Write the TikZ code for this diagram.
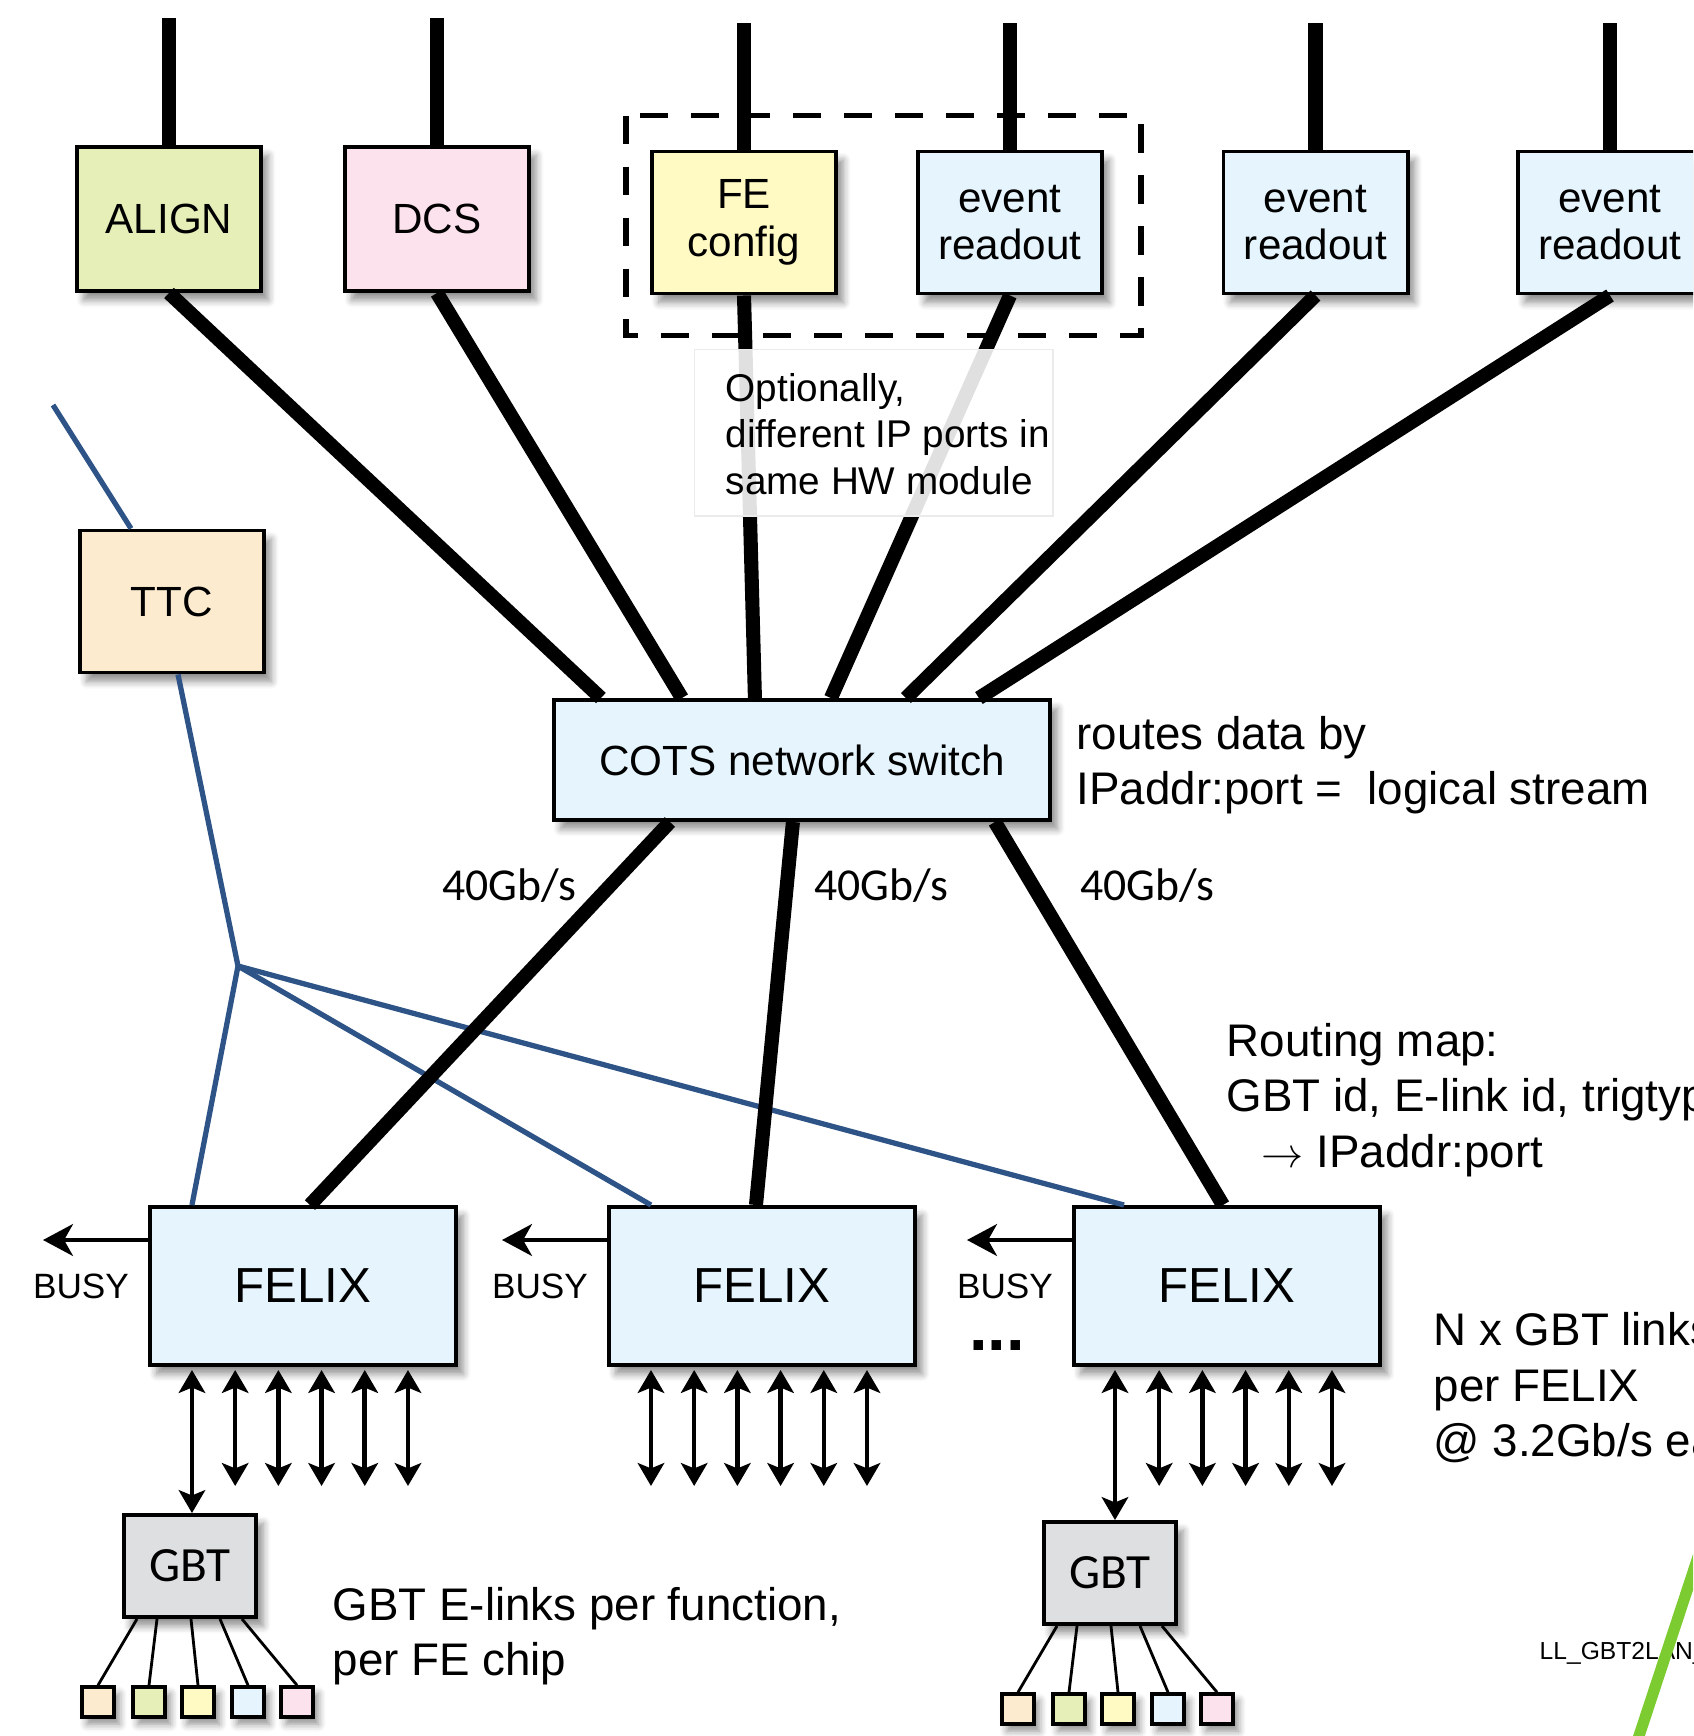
\documentclass[tikz,border=0pt]{standalone}
\usepackage{fontspec}
\setmainfont{Liberation Sans}
\newfontfamily\calib{Carlito}
\usetikzlibrary{calc,positioning,arrows.meta,shadows.blur}

\definecolor{alignfill}{HTML}{E6EFB8}
\definecolor{dcsfill}{HTML}{FCE2EC}
\definecolor{fefill}{HTML}{FFF9C4}
\definecolor{readfill}{HTML}{E6F5FD}
\definecolor{ttcfill}{HTML}{FDEBD0}
\definecolor{gbtfill}{HTML}{DEDFE1}
\definecolor{ttcblue}{HTML}{2E5487}
\definecolor{lime}{HTML}{7CCB30}

\begin{document}
\begin{tikzpicture}[x=0.01cm,y=-0.01cm,
  box/.style={draw,line width=1.1pt,inner sep=0pt,align=center,
    blur shadow={shadow xshift=2pt,shadow yshift=-2.5pt,shadow blur steps=6,shadow opacity=45},
    font=\fontsize{12}{13.6}\selectfont},
  topbox/.style={box,minimum width=1.84cm,minimum height=1.42cm},
  felix/.style={box,fill=readfill,minimum width=3.06cm,minimum height=1.58cm,font=\fontsize{14}{16}\selectfont},
  gbt/.style={box,fill=gbtfill,minimum width=1.32cm,minimum height=1.02cm,font=\calib\fontsize{14}{16}\selectfont},
  chip/.style={draw,line width=1pt,minimum width=0.32cm,minimum height=0.3cm,inner sep=0pt,
    blur shadow={shadow xshift=1.5pt,shadow yshift=-2pt,shadow blur steps=5,shadow opacity=45}},
  fat/.style={line width=4pt},
  ttcline/.style={ttcblue,line width=1.5pt},
  link/.style={line width=1.3pt,{Stealth[length=6.5pt,width=7.5pt,inset=1.5pt]}-{Stealth[length=6.5pt,width=7.5pt,inset=1.5pt]}},
  busy/.style={line width=1.4pt,-{Stealth[length=8.5pt,width=9pt,inset=2.5pt]}},
  elink/.style={line width=0.8pt},
  rate/.style={font=\calib\fontsize{13}{15}\selectfont,inner sep=0pt},
  note/.style={font=\fontsize{13}{15.8}\selectfont,align=left,inner sep=0pt}
  ]
  \useasboundingbox (0,0) rectangle (1693,1736);
  \clip (0,0) rectangle (1693,1736);

  % upper row
  \node[topbox,fill=alignfill,minimum height=1.44cm] (align) at (169,219) {ALIGN};
  \node[topbox,fill=dcsfill,minimum height=1.44cm] (dcs) at (437,219) {DCS};
  \node[topbox,fill=fefill] (fe) at (744,222.5) {FE\\config};
  \node[topbox,fill=readfill] (er1) at (1010,222.5) {event\\readout};
  \node[topbox,fill=readfill] (er2) at (1315.5,222.5) {event\\readout};
  \node[topbox,fill=readfill] (er3) at (1610,222.5) {event\\readout};
  \node[topbox,fill=ttcfill] (ttc) at (172,601.5) {TTC};

  % switch and FELIX cards
  \node[box,fill=readfill,minimum width=4.96cm,minimum height=1.2cm] (cots) at (802,760) {COTS network switch};
  \node[felix] (f1) at (303,1286) {FELIX};
  \node[felix] (f2) at (762,1286) {FELIX};
  \node[felix] (f3) at (1227,1286) {FELIX};
  \node[gbt] (gbta) at (190,1566) {GBT};
  \node[gbt] (gbtb) at (1110,1573) {GBT};

  % TTC distribution
  \coordinate (ttcup) at (53,405);
  \coordinate (hub) at (238,966);
  \draw[ttcline] ($(ttc.north west)+(53,0)$) -- (ttcup);
  \draw[ttcline] ($(ttc.south west)+(100,0)$) -- (hub);
  \foreach \f/\fx in {f1/44,f2/44,f3/52}
    \draw[ttcline] (hub) -- ($(\f.north west)+(\fx,0)$);

  % network links
  \foreach \n in {align,dcs,fe,er1,er2,er3}
    \draw[fat] (\n.north) -- ++(0,-127);
  \foreach \n/\dx in {align/49,dcs/130,fe/203,er1/279,er2/354,er3/427}
    \draw[fat] (\n.south) -- ($(cots.north west)+(\dx,0)$);
  \foreach \dx/\f/\fx in {118/f1/162,241/f2/149,443/f3/151}
    \draw[fat] ($(cots.south west)+(\dx,0)$) -- ($(\f.north west)+(\fx,0)$);

  \draw[line width=1.5pt,dash pattern=on 8pt off 6.5pt]
    ($(fe.north west)+(-24,-34)$) rectangle ($(er1.south east)+(37,40)$);
  \node[draw=black!8,fill=white,fill opacity=0.88,minimum width=3.58cm,minimum height=1.66cm,
    anchor=north west] (optbox) at (694,349) {};
  \node[note,font=\fontsize{11}{13.2}\selectfont,anchor=west] (opt) at (725,434)
    {Optionally,\\different IP ports in\\same HW module};

  \node[note,anchor=west] (routes) at (1076,765) {routes data by\\IPaddr:port =\ \ logical stream};
  \node[rate] (r1) at (509,886) {40Gb/s};
  \node[rate] (r2) at (881,886) {40Gb/s};
  \node[rate] (r3) at (1147,886) {40Gb/s};
  \node[note,anchor=west] (map) at (1226,1100)
    {Routing map:\\GBT id, E-link id, trigtype\\\hspace*{10pt}$\rightarrow$ IPaddr:port};

  % BUSY outputs and links
  \foreach \f in {f1,f2,f3} {
    \draw[busy] ($(\f.west)+(0,-46)$) -- ++(-105,0);
    \node[inner sep=0pt,font=\fontsize{10}{11}\selectfont] (busy\f) at ($(\f.west)+(-67,0)$) {BUSY};
    \foreach \k in {1,...,5}
      \draw[link] ($(\f.south west)+(44+43.2*\k,3)$) -- ++(0,116);
  }
  \node[font=\bfseries\fontsize{19}{19}\selectfont,inner sep=0pt] (dots) at (997,1346) {...};
  \draw[link] ($(f2.south west)+(44,3)$) -- ++(0,116);
  \path ($(f1.south west)+(44,3)$) coordinate (d1) ($(f3.south west)+(43,3)$) coordinate (d3);
  \draw[link] (d1) -- (d1 |- gbta.north);
  \draw[link] (d3) -- (d3 |- gbtb.north);

  \node[note,anchor=west] (nx) at (1433,1388)
    {N x GBT links\\per FELIX\\@ 3.2Gb/s each};

  % E-links to FE chips
  \foreach \g in {gbta,gbtb}
    \foreach \c/\dx/\sx [count=\i] in {ttcfill/-53/-92,alignfill/-33/-41,fefill/1/8,readfill/30/58,dcsfill/52/107} {
      \node[chip,fill=\c] (\g\i) at ($(\g)+(\sx,136)$) {};
      \draw[elink] ($(\g.south)+(\dx,0)$) -- (\g\i.north);
    }
  \node[note,anchor=west] (elinks) at (332,1636) {GBT E-links per function,\\per FE chip};

  \node[inner sep=0pt,anchor=west,font=\fontsize{7}{8}\selectfont] (tag) at (1539,1653) {LL\_GBT2LAN\_};
  \coordinate (g1) at (1700,1551);
  \coordinate (g2) at (1636,1745);
  \draw[lime,line width=3.2pt] (g1) -- (g2);
\end{tikzpicture}
\end{document}
